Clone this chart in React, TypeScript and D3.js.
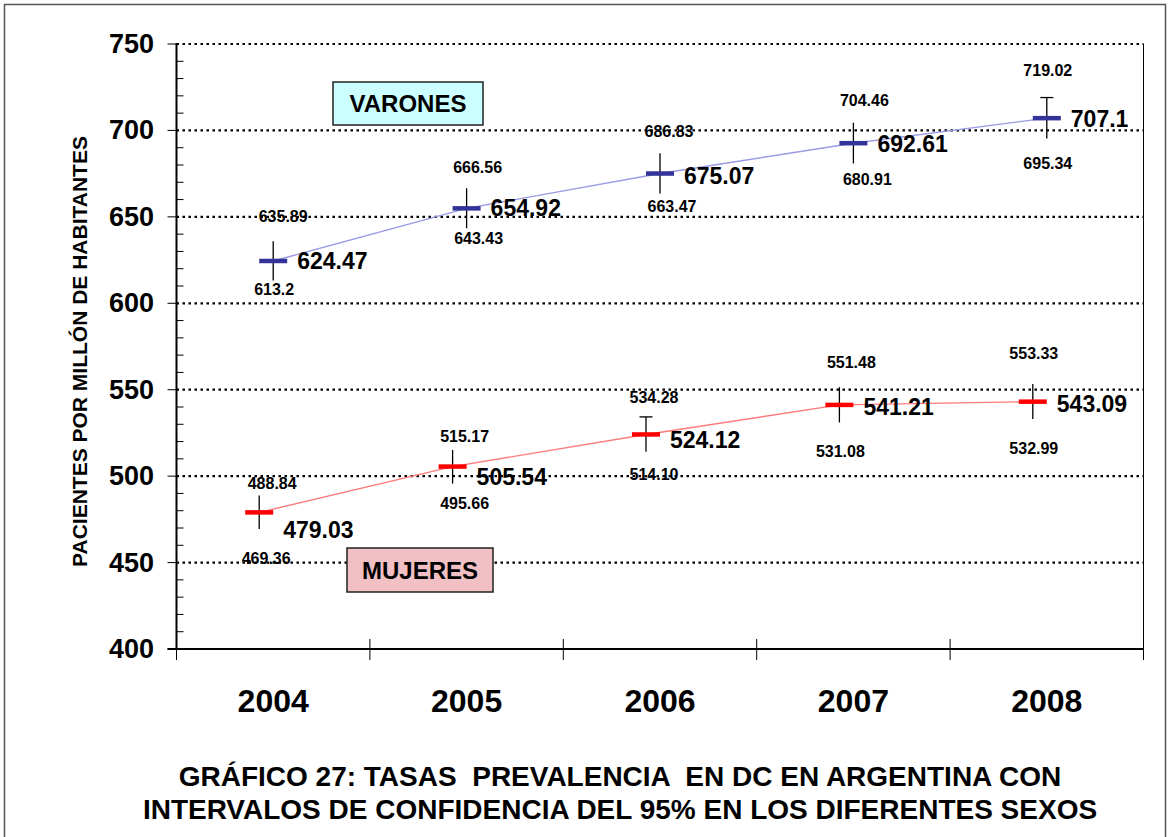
import React from 'react';
import * as d3 from 'd3';

const years = ['2004', '2005', '2006', '2007', '2008'];
const yTicks = [400, 450, 500, 550, 600, 650, 700, 750];

const varonesMean = [624.47, 654.92, 675.07, 692.61, 707.1];
const varonesLower = [613.2, 643.43, 663.47, 680.91, 695.34];
const varonesUpper = [635.89, 666.56, 686.83, 704.46, 719.02];
const varonesMeanText = ['624.47', '654.92', '675.07', '692.61', '707.1'];
const varonesLowerText = ['613.2', '643.43', '663.47', '680.91', '695.34'];
const varonesUpperText = ['635.89', '666.56', '686.83', '704.46', '719.02'];

const mujeresMean = [479.03, 505.54, 524.12, 541.21, 543.09];
const mujeresLower = [469.36, 495.66, 514.1, 531.08, 532.99];
const mujeresUpper = [488.84, 515.17, 534.28, 551.48, 553.33];
const mujeresMeanText = ['479.03', '505.54', '524.12', '541.21', '543.09'];
const mujeresLowerText = ['469.36', '495.66', '514.10', '531.08', '532.99'];
const mujeresUpperText = ['488.84', '515.17', '534.28', '551.48', '553.33'];

const titleLines = [
  'GRÁFICO 27: TASAS  PREVALENCIA  EN DC EN ARGENTINA CON',
  'INTERVALOS DE CONFIDENCIA DEL 95% EN LOS DIFERENTES SEXOS',
];
const yTitle = 'PACIENTES POR MILLÓN DE HABITANTES';

// label placement nudges (layout, px)
const vUpDx = [10, 11, 9, 11, 1];
const vUpDy = [-24.5, -20.5, -21.5, -22.5, -27];
const vLoDx = [1, 12, 12, 14, 1];
const vLoDy = [9.5, 10, 13, 16, 25];
const vMeanDy = [0, 0, 2, 1, 1];
const mUpDx = [13, 12, 8, 12, 1];
const mUpDy = [-11.5, -13, -19.5, -25, -30];
const mLoDx = [7, 12, 8, 1, 1];
const mLoDy = [29.5, 20, 23, 29, 29];
const mMeanDy = [17.5, 10, 6, 2, 2];
const vCaps = [false, false, false, false, true];
const mCaps = [false, false, true, false, false];

const FONT = '"Liberation Sans", Arial, Helvetica, sans-serif';

const W = 1169;
const H = 837;
const left = 176.5;
const right = 1143.5;
const top = 44;
const bottom = 649;

export default function App() {
  const x = d3.scaleBand<string>().domain(years).range([left, right]);
  const y = d3.scaleLinear().domain([400, 750]).range([bottom, top]);
  const minor = d3.range(400, 751, 10).filter((v) => v % 50 !== 0);
  const xc = (i: number) => (x(years[i]) as number) + x.bandwidth() / 2;

  const series = [
    {
      key: 'v', mean: varonesMean, lo: varonesLower, up: varonesUpper,
      meanT: varonesMeanText, loT: varonesLowerText, upT: varonesUpperText,
      shift: 0, marker: '#333399', line: '#9a9ae6',
      upDx: vUpDx, upDy: vUpDy, loDx: vLoDx, loDy: vLoDy, meanDy: vMeanDy, caps: vCaps,
    },
    {
      key: 'm', mean: mujeresMean, lo: mujeresLower, up: mujeresUpper,
      meanT: mujeresMeanText, loT: mujeresLowerText, upT: mujeresUpperText,
      shift: -14, marker: '#ff0000', line: '#ff7a7a',
      upDx: mUpDx, upDy: mUpDy, loDx: mLoDx, loDy: mLoDy, meanDy: mMeanDy, caps: mCaps,
    },
  ];

  return (
    <svg width={W} height={H} style={{ position: 'absolute', left: 0, top: 0, display: 'block', background: '#fff' }} fontFamily={FONT}>
      <rect x={0} y={0} width={W} height={H} fill="#fff" />
      <rect x={4.5} y={4.5} width={1161} height={845} fill="none" stroke="#555" strokeWidth={1.5} />

      {/* gridlines */}
      {yTicks.filter((t) => t > 400).map((t) => (
        <line key={'g' + t} x1={left} x2={right} y1={y(t)} y2={y(t)} stroke="#000" strokeWidth={2.2} strokeDasharray="2.5 3.5" />
      ))}
      {/* right border */}
      <line x1={right} x2={right} y1={top} y2={bottom} stroke="#000" strokeWidth={1} />

      {/* y axis */}
      <line x1={left} x2={left} y1={top - 1} y2={bottom + 1} stroke="#000" strokeWidth={2} />
      {yTicks.map((t) => (
        <line key={'t' + t} x1={left - 9} x2={left} y1={y(t)} y2={y(t)} stroke="#000" strokeWidth={1} />
      ))}
      {minor.map((t) => (
        <line key={'mi' + t} x1={left} x2={left + 7} y1={y(t)} y2={y(t)} stroke="#000" strokeWidth={1} />
      ))}
      {yTicks.map((t) => (
        <text key={'l' + t} x={154} y={y(t)} textAnchor="end" dominantBaseline="central" fontSize={27} fontWeight="bold">{t}</text>
      ))}
      <text transform={`translate(79,351.5) rotate(-90)`} textAnchor="middle" dominantBaseline="central" fontSize={21} fontWeight="bold">{yTitle}</text>

      {/* x axis */}
      <line x1={left - 9} x2={right} y1={bottom} y2={bottom} stroke="#000" strokeWidth={2} />
      {years.map((yr) => (
        <line key={'xt' + yr} x1={x(yr) as number} x2={x(yr) as number} y1={bottom - 10} y2={bottom + 11} stroke="#000" strokeWidth={1} />
      ))}
      <line x1={right} x2={right} y1={bottom - 10} y2={bottom + 11} stroke="#000" strokeWidth={1} />
      {years.map((yr, i) => (
        <text key={'xl' + yr} x={xc(i)} y={712} textAnchor="middle" fontSize={32} fontWeight="bold">{yr}</text>
      ))}

      {/* series */}
      {series.map((s) => {
        const px = (i: number) => xc(i) + s.shift;
        const lineGen = d3.line<number>().x((_, i) => px(i)).y((d) => y(d));
        return (
          <g key={s.key}>
            <path d={lineGen(s.mean) || ''} fill="none" stroke={s.line} strokeWidth={1.4} />
            {s.mean.map((m, i) => (
              <g key={i}>
                <line x1={px(i)} x2={px(i)} y1={y(s.up[i])} y2={y(s.lo[i])} stroke="#000" strokeWidth={1.3} />
                {s.caps[i] && (
                  <line x1={px(i) - 6.5} x2={px(i) + 6.5} y1={y(s.up[i])} y2={y(s.up[i])} stroke="#000" strokeWidth={1.3} />
                )}
                <rect x={px(i) - 14} y={y(m) - 2.25} width={28} height={4.5} fill={s.marker} />
                <text x={px(i) + s.upDx[i]} y={y(s.up[i]) + s.upDy[i]} textAnchor="middle" dominantBaseline="central" fontSize={16} fontWeight="bold">{s.upT[i]}</text>
                <text x={px(i) + s.loDx[i]} y={y(s.lo[i]) + s.loDy[i]} textAnchor="middle" dominantBaseline="central" fontSize={16} fontWeight="bold">{s.loT[i]}</text>
                <text x={px(i) + 24} y={y(m) + s.meanDy[i]} textAnchor="start" dominantBaseline="central" fontSize={23} fontWeight="bold">{s.meanT[i]}</text>
              </g>
            ))}
          </g>
        );
      })}

      {/* series name boxes */}
      <rect x={333} y={82} width={150} height={43} fill="#ccffff" stroke="#222" strokeWidth={1.5} />
      <text x={408} y={103.5} textAnchor="middle" dominantBaseline="central" fontSize={24} fontWeight="bold">VARONES</text>
      <rect x={347} y={548} width={146} height={44} fill="#f0c0c4" stroke="#222" strokeWidth={1.5} />
      <text x={420} y={570} textAnchor="middle" dominantBaseline="central" fontSize={24} fontWeight="bold">MUJERES</text>

      {/* title */}
      {titleLines.map((t, i) => (
        <text key={'ti' + i} x={620} y={786 + i * 33} textAnchor="middle" fontSize={28} fontWeight="bold" style={{ whiteSpace: 'pre' }}>{t}</text>
      ))}
    </svg>
  );
}
